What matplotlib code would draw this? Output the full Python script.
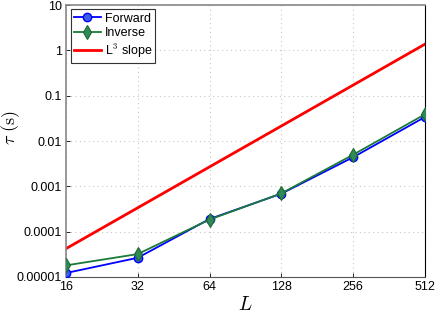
import matplotlib
matplotlib.use('Agg')
import matplotlib.pyplot as plt
import matplotlib as mpl

mpl.rcParams['mathtext.fontset'] = 'cm'
mpl.rcParams['font.family'] = ['Liberation Sans', 'DejaVu Sans']
mpl.rcParams['font.size'] = 9

L = [16, 32, 64, 128, 256, 512]
forward = [1.22e-5, 2.65e-5, 1.9e-4, 6.9e-4, 4.4e-3, 0.034]
inverse = [1.8e-5, 3.2e-5, 1.85e-4, 7.0e-4, 5.0e-3, 0.039]
l3_slope = [4.2e-5, 3.36e-4, 2.69e-3, 2.15e-2, 0.172, 1.38]

xticks = [16, 32, 64, 128, 256, 512]
xlabels = ['16', '32', '64', '128', '256', '512']
yticks = [1e-5, 1e-4, 1e-3, 1e-2, 1e-1, 1, 10]
ylabels = ['0.00001', '0.0001', '0.001', '0.01', '0.1', '1', '10']

fig = plt.figure(figsize=(4.36, 3.18), dpi=100)
ax = fig.add_axes([0.151, 0.129, 0.824, 0.855])

ax.plot(L, forward, '-o', color='#0000ff', lw=1.3, ms=6,
        mfc='#3b5fe0', mec='#0000ff', mew=1.0, label='Forward', zorder=3)
ax.plot(L, inverse, '-d', color='#1a7a3a', lw=1.3, ms=7.5,
        mfc='#2e8b57', mec='#1a6a30', mew=0.8, label='Inverse', zorder=4)
ax.plot(L, l3_slope, '-', color='#ff0000', lw=2.0, label='L$^3$ slope', zorder=2)

ax.set_xscale('log', base=2)
ax.set_yscale('log')
ax.set_xlim(16, 512)
ax.set_ylim(1e-5, 10)
ax.set_xticks(xticks)
ax.set_xticklabels(xlabels)
ax.set_yticks(yticks)
ax.set_yticklabels(ylabels)
ax.minorticks_off()
ax.tick_params(direction='in', length=3, width=0.6, labelsize=9, pad=3)

ax.grid(True, which='major', color='#c8c8c8', linestyle=(0, (1, 3)), lw=0.8)

for s in ['left', 'top']:
    ax.spines[s].set_color('#888888')
    ax.spines[s].set_linewidth(1.2)
ax.spines['bottom'].set_color('#555555')
ax.spines['bottom'].set_linewidth(0.8)
ax.spines['right'].set_color('black')
ax.spines['right'].set_linewidth(0.8)

ax.set_xlabel('$L$', fontsize=14, labelpad=2)
ax.set_ylabel(r'$\tau\ \mathrm{(s)}$', fontsize=13)
ax.yaxis.set_label_coords(-0.122, 0.55)

leg = ax.legend(loc='upper left', bbox_to_anchor=(0.013, 0.984), fontsize=9,
                fancybox=False, framealpha=1, edgecolor='#333333',
                handlelength=2.2, handletextpad=0.3, borderpad=0.25,
                labelspacing=0.2, borderaxespad=0)
leg.get_frame().set_linewidth(0.8)

fig.savefig('out.png', dpi=100)
